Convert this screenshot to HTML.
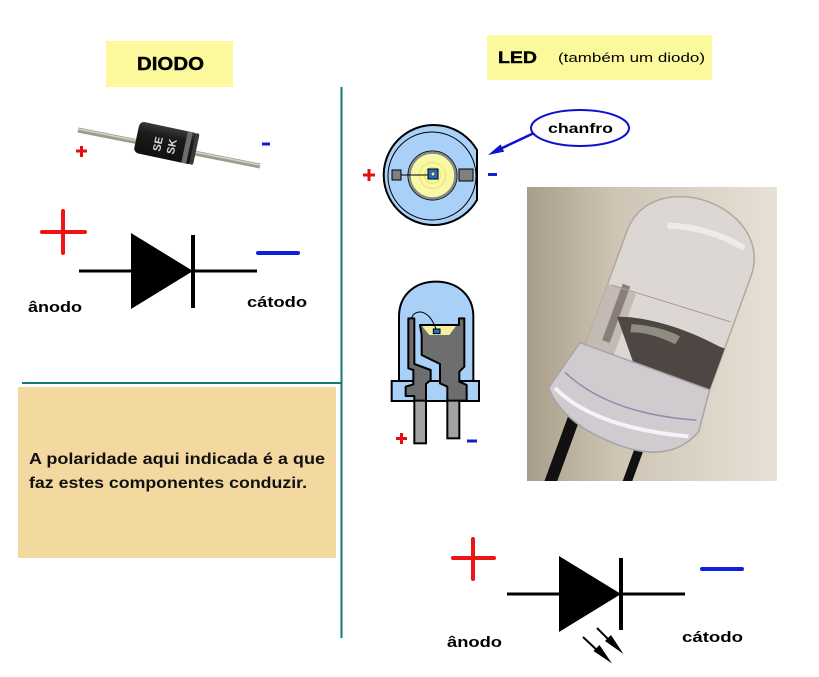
<!DOCTYPE html>
<html><head><meta charset="utf-8"><style>
html,body{margin:0;padding:0;background:#fff;}
svg{display:block;}
text{font-family:"Liberation Sans",Arial,sans-serif;}
</style></head><body>
<svg width="819" height="677" viewBox="0 0 819 677" xmlns="http://www.w3.org/2000/svg">
<defs>
<linearGradient id="bg" x1="0" y1="0" x2="1" y2="0">
<stop offset="0" stop-color="#a89d8a"/><stop offset="0.35" stop-color="#cdc4b4"/><stop offset="1" stop-color="#e7e1d6"/>
</linearGradient>
<linearGradient id="body" x1="0" y1="0" x2="0" y2="1">
<stop offset="0" stop-color="#3a3a3a"/><stop offset="0.3" stop-color="#1c1c1c"/><stop offset="1" stop-color="#101010"/>
</linearGradient>
<clipPath id="ph"><rect x="527" y="187" width="250" height="294"/></clipPath>
<clipPath id="topv"><path d="M477,150 A50,50 0 1,0 477,200 Z"/></clipPath>
</defs>

<!-- teal divider lines -->
<line x1="341.5" y1="87" x2="341.5" y2="638" stroke="#17787a" stroke-width="2"/>
<line x1="22" y1="383" x2="341" y2="383" stroke="#17787a" stroke-width="2"/>

<!-- DIODO header -->
<rect x="106" y="41" width="127" height="46" fill="#fbf99b"/>
<text x="137" y="70" font-size="18" font-weight="bold" stroke="#000" stroke-width="0.4" textLength="67" lengthAdjust="spacingAndGlyphs">DIODO</text>

<!-- LED header -->
<rect x="487" y="35" width="225" height="45" fill="#fbf99b"/>
<text x="498" y="63" font-size="17" font-weight="bold" stroke="#000" stroke-width="0.4" textLength="39" lengthAdjust="spacingAndGlyphs">LED</text>
<text x="558" y="62" font-size="13" textLength="147" lengthAdjust="spacingAndGlyphs">(também um diodo)</text>

<!-- diode photo -->
<line x1="78" y1="130" x2="260" y2="166" stroke="#9c9c8c" stroke-width="5"/>
<line x1="78" y1="129" x2="260" y2="165" stroke="#d4d4c8" stroke-width="1.5"/>
<g transform="translate(166,143) rotate(12)">
<rect x="-30" y="-16" width="60" height="32" rx="5" fill="url(#body)"/>
<rect x="19" y="-16" width="5" height="32" fill="#6c6c6c"/>
<rect x="27" y="-16" width="4" height="32" rx="2" fill="#3a3a3a"/>
<text transform="translate(-4,10) rotate(-90)" font-size="11" font-weight="bold" fill="#d8d8d8">SE</text>
<text transform="translate(10,10) rotate(-90)" font-size="11" font-weight="bold" fill="#d8d8d8">SK</text>
</g>
<g stroke="#e01010" stroke-width="3"><line x1="76" y1="151" x2="87" y2="151"/><line x1="81.5" y1="146" x2="81.5" y2="157"/></g>
<line x1="262" y1="144" x2="270" y2="144" stroke="#1020d0" stroke-width="3"/>

<!-- diode symbol -->
<g stroke-linecap="round">
<line x1="42" y1="232" x2="85" y2="232" stroke="#ee1515" stroke-width="4"/>
<line x1="63" y1="211" x2="63" y2="253" stroke="#ee1515" stroke-width="4"/>
<line x1="258" y1="253" x2="298" y2="253" stroke="#1020e0" stroke-width="4"/>
</g>
<line x1="79" y1="271" x2="257" y2="271" stroke="#000" stroke-width="3"/>
<polygon points="131,233 193,271 131,309" fill="#000"/>
<line x1="193" y1="235" x2="193" y2="308" stroke="#000" stroke-width="4"/>
<text x="28" y="312" font-size="15" font-weight="bold" textLength="54" lengthAdjust="spacingAndGlyphs">ânodo</text>
<text x="247" y="307" font-size="15" font-weight="bold" textLength="60" lengthAdjust="spacingAndGlyphs">cátodo</text>

<!-- info box -->
<rect x="18" y="387" width="318" height="171" fill="#f3d89f"/>
<text x="29" y="464" font-size="16" font-weight="bold" fill="#111" textLength="296" lengthAdjust="spacingAndGlyphs">A polaridade aqui indicada é a que</text>
<text x="29" y="488" font-size="16" font-weight="bold" fill="#111" textLength="278" lengthAdjust="spacingAndGlyphs">faz estes componentes conduzir.</text>

<!-- LED top view -->
<path d="M477,150 A50,50 0 1,0 477,200 Z" fill="#a9d0f7" stroke="#000" stroke-width="2"/>
<g clip-path="url(#topv)"><circle cx="432" cy="176" r="44" fill="none" stroke="#000" stroke-width="1"/></g>
<circle cx="432.5" cy="175.5" r="24.5" fill="#f8f8a6" stroke="#000" stroke-width="1"/>
<circle cx="432.5" cy="175.5" r="23" fill="none" stroke="#888" stroke-width="2.5"/>
<circle cx="432.5" cy="175.5" r="13" fill="none" stroke="#eee070" stroke-width="1"/>
<circle cx="432.5" cy="175.5" r="8" fill="none" stroke="#eee070" stroke-width="1"/>
<line x1="401" y1="175" x2="428" y2="175" stroke="#000" stroke-width="1"/>
<rect x="392" y="170" width="9" height="10" fill="#808080" stroke="#000" stroke-width="1"/>
<rect x="459" y="169" width="14" height="12" fill="#808080" stroke="#000" stroke-width="1"/>
<rect x="428" y="169" width="10" height="10" fill="#1c6fd0" stroke="#000" stroke-width="1"/>
<circle cx="433" cy="174" r="2" fill="#f8f0a0" stroke="#000" stroke-width="0.6"/>
<g stroke="#e01010" stroke-width="3"><line x1="363" y1="175" x2="375" y2="175"/><line x1="369" y1="169" x2="369" y2="181"/></g>
<line x1="488" y1="174.5" x2="497" y2="174.5" stroke="#1020d0" stroke-width="3"/>

<!-- chanfro callout -->
<line x1="534" y1="133" x2="498" y2="150" stroke="#1010d0" stroke-width="2.5"/>
<polygon points="488,155 500.6,144.4 504.2,151.6" fill="#1010d0"/>
<ellipse cx="580" cy="128" rx="49" ry="18" fill="#fff" stroke="#1010d0" stroke-width="2"/>
<text x="548" y="133" font-size="14" font-weight="bold" textLength="65" lengthAdjust="spacingAndGlyphs">chanfro</text>

<!-- LED side view -->
<g transform="translate(360,270) scale(0.33333)">
<path d="M117,334 L117,140 C117,75 165,35 228,35 C291,35 340,75 340,140 L340,334 Z" fill="#a9d0f7" stroke="#000" stroke-width="6"/>
<rect x="95" y="333" width="262" height="60" fill="#a9d0f7" stroke="#000" stroke-width="6"/>
<rect x="163" y="388" width="35" height="132" fill="#a2a2a2" stroke="#000" stroke-width="6"/>
<rect x="262" y="388" width="36" height="117" fill="#a2a2a2" stroke="#000" stroke-width="6"/>
<path d="M145,145 L163,145 L163,282 L212,300 L212,330 L198,342 L198,392 L163,392 L163,378 L137,378 L137,350 L160,343 L160,300 L145,295 Z" fill="#6e6e6e" stroke="#000" stroke-width="6" stroke-linejoin="round"/>
<path d="M180,165 L297,165 L297,145 L313,145 L313,290 L298,305 L298,335 L320,345 L320,392 L298,392 L262,392 L262,350 L240,340 L240,282 L185,255 L185,195 Z" fill="#6e6e6e" stroke="#000" stroke-width="6" stroke-linejoin="round"/>
<polygon points="186,168 288,168 268,195 208,195" fill="#f5f0a0"/>
<rect x="220" y="177" width="20" height="14" fill="#1c6fd0" stroke="#000" stroke-width="3"/>
<path d="M155,145 C160,120 205,110 228,177" fill="none" stroke="#000" stroke-width="3"/>
</g>
<g stroke="#e01010" stroke-width="3"><line x1="396" y1="438.5" x2="407" y2="438.5"/><line x1="401.5" y1="433" x2="401.5" y2="444"/></g>
<line x1="467" y1="441" x2="477" y2="441" stroke="#1020d0" stroke-width="3"/>

<!-- LED photo -->
<g clip-path="url(#ph)">
<rect x="527" y="187" width="250" height="294" fill="url(#bg)"/>
<g transform="translate(663,325) rotate(20)">
<line x1="-52" y1="110" x2="-52" y2="230" stroke="#111" stroke-width="12"/>
<line x1="20" y1="120" x2="20" y2="230" stroke="#111" stroke-width="9"/>
<path d="M-66,50 L-66,-75 C-66,-150 66,-150 66,-75 L66,50 Z" fill="#ddd7d4" stroke="#b5a5a0" stroke-width="1.5"/>
<rect x="-66" y="-20" width="30" height="70" fill="#c2bab3"/>
<rect x="-52" y="-25" width="8" height="60" fill="#8a7f78"/>
<line x1="-62" y1="-20" x2="62" y2="-26" stroke="#a89a96" stroke-width="1"/>
<path d="M-46,8 C-20,-2 20,-5 61,1 L66,1 L66,50 L-3,60 Z" fill="#4e4643"/>
<path d="M-30,10 C-10,4 10,3 20,5 L18,14 C0,12 -15,13 -28,18 Z" fill="#8f8c80"/>
<path d="M-30,-95 Q10,-108 50,-100" fill="none" stroke="#efebe9" stroke-width="6"/>
<path d="M-72,45 L66,45 L70,88 Q55,128 0,128 Q-60,128 -86,98 Z" fill="#d0cbcf" stroke="#a8a2aa" stroke-width="1.5"/>
<path d="M-80,96 Q-30,120 62,96" fill="none" stroke="#f4f4f8" stroke-width="4"/>
<path d="M-76,78 Q-20,102 64,78" fill="none" stroke="#8890b0" stroke-width="1.5"/>
</g>
</g>

<!-- LED symbol -->
<g stroke-linecap="round">
<line x1="453" y1="558" x2="494" y2="558" stroke="#ee1515" stroke-width="4"/>
<line x1="473" y1="539" x2="473" y2="579" stroke="#ee1515" stroke-width="4"/>
<line x1="702" y1="569" x2="742" y2="569" stroke="#1020e0" stroke-width="4"/>
</g>
<line x1="507" y1="594" x2="685" y2="594" stroke="#000" stroke-width="3"/>
<polygon points="559,556 621,594 559,632" fill="#000"/>
<line x1="621" y1="558" x2="621" y2="630" stroke="#000" stroke-width="4"/>
<line x1="597" y1="628" x2="612" y2="643" stroke="#000" stroke-width="2"/>
<polygon points="623.5,654 605,641 611,635" fill="#000"/>
<line x1="583" y1="637" x2="600" y2="653" stroke="#000" stroke-width="2"/>
<polygon points="612,663.5 593.5,651 599.5,645" fill="#000"/>
<text x="447" y="647" font-size="15" font-weight="bold" textLength="55" lengthAdjust="spacingAndGlyphs">ânodo</text>
<text x="682" y="642" font-size="15" font-weight="bold" textLength="61" lengthAdjust="spacingAndGlyphs">cátodo</text>
</svg>
</body></html>
